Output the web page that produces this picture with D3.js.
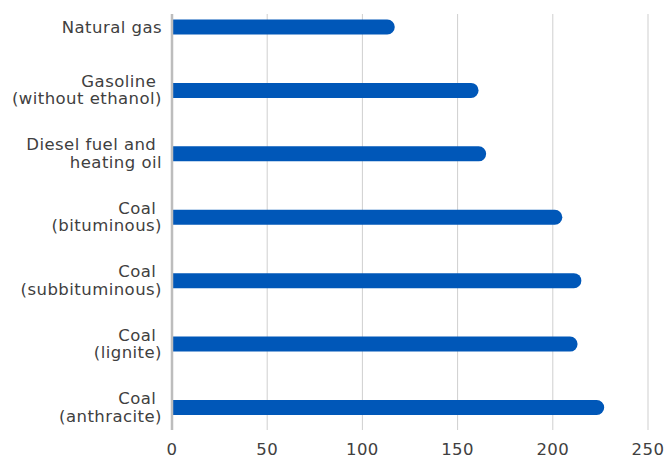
<!DOCTYPE html>
<html><head><meta charset="utf-8">
<script src="https://cdn.jsdelivr.net/npm/d3@7"></script>
<style>
html,body{margin:0;padding:0;background:#fff;}
text{font-family:"DejaVu Sans",sans-serif;fill:#404040;white-space:pre;letter-spacing:0.45px;}
</style></head>
<body><svg id="c" width="666" height="459"></svg>
<script>
const categories = [
  ["Natural gas"],
  ["Gasoline ", "(without ethanol)"],
  ["Diesel fuel and ", "heating oil"],
  ["Coal ", "(bituminous)"],
  ["Coal ", "(subbituminous)"],
  ["Coal ", "(lignite)"],
  ["Coal ", "(anthracite)"]
];
const values = [117, 161, 165, 205, 215, 213, 227];
const ticks = [0, 50, 100, 150, 200, 250];

const svg = d3.select("#c");
const x = d3.scaleLinear().domain([0, 250]).range([172, 648]);
const y = d3.scalePoint().domain(d3.range(categories.length)).range([27, 407.5]);
const plotTop = 14, plotBottom = 430, bh = 15, r = bh / 2;

// gridlines
svg.append("g").selectAll("line").data(ticks.slice(1)).join("line")
  .attr("x1", d => x(d)).attr("x2", d => x(d))
  .attr("y1", plotTop).attr("y2", plotBottom)
  .attr("stroke", "#cfcfcf").attr("stroke-width", 1);

// bars with rounded right end
svg.append("g").selectAll("path").data(values).join("path")
  .attr("fill", "#0057b8")
  .attr("d", (v, i) => {
    const x0 = x(0) + 1, x1 = x(v), yc = y(i);
    return `M${x0},${yc - r}H${x1 - r}A${r},${r} 0 0 1 ${x1 - r},${yc + r}H${x0}Z`;
  });

// axis line
svg.append("line").attr("x1", x(0)).attr("x2", x(0))
  .attr("y1", plotTop).attr("y2", plotBottom)
  .attr("stroke", "#bdbdbd").attr("stroke-width", 2.5);

// category labels
const lab = svg.append("g").selectAll("text").data(categories).join("text")
  .attr("text-anchor", "end").attr("font-size", 16.5)
  .attr("transform", (d, i) => `translate(162,${y(i)})`);
lab.each(function(lines) {
  const t = d3.select(this);
  lines.forEach((s, k) => {
    const dy = lines.length === 1 ? 6 : (k === 0 ? -3.5 : 14);
    t.append("tspan").attr("x", 0).attr("y", dy).text(s);
  });
});

// tick labels
svg.append("g").selectAll("text").data(ticks).join("text")
  .attr("x", d => x(d)).attr("y", 455)
  .attr("text-anchor", "middle").attr("font-size", 16.5)
  .text(d => d);
</script></body></html>
